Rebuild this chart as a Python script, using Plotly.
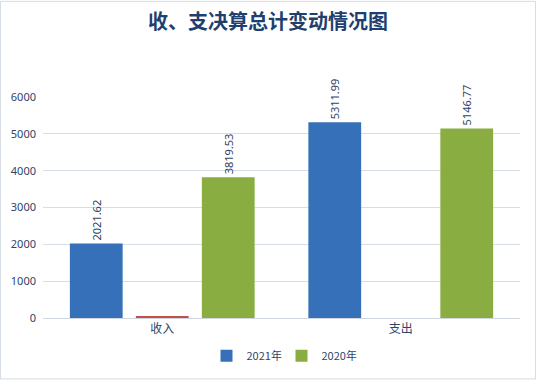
import plotly.graph_objects as go

categories = ["收入", "支出"]
y2021 = [2021.62, 5311.99]
y_mid = [30, 0]
y2020 = [3819.53, 5146.77]
labels2021 = ["2021.62", "5311.99"]
labels2020 = ["3819.53", "5146.77"]

W, H = 536, 382
ML, MR, MT, MB = 43, 16, 97, 62
PW, PH = W - ML - MR, H - MT - MB

lab_font = dict(family="Noto Sans, DejaVu Sans", size=11, color="#2E4468")

fig = go.Figure()
fig.add_trace(go.Bar(x=categories, y=y2021, name="2021年", marker=dict(color="#3670B8", line=dict(width=0)),
                     text=labels2021, textposition="outside", textangle=-90, textfont=lab_font, cliponaxis=False))
fig.add_trace(go.Bar(x=categories, y=y_mid, name="差额", showlegend=False,
                     marker=dict(color="#C0504D", line=dict(width=0))))
fig.add_trace(go.Bar(x=categories, y=y2020, name="2020年", marker=dict(color="#8AAD42", line=dict(width=0)),
                     text=labels2020, textposition="outside", textangle=-90, textfont=lab_font, cliponaxis=False))

fig.update_layout(
    width=W, height=H,
    margin=dict(l=ML, r=MR, t=MT, b=MB),
    paper_bgcolor="white", plot_bgcolor="white",
    barmode="group", bargap=0.17, bargroupgap=0.2,
    title=dict(text="<b>收、支决算总计变动情况图</b>", x=0.5, xanchor="center", y=1 - 22 / H, yanchor="middle",
               font=dict(family="Noto Sans CJK SC", size=20, color="#1F3F6E")),
    font=dict(family="Noto Sans CJK SC, Noto Sans", size=11, color="#2E4468"),
    legend=dict(orientation="h", x=0.5, xanchor="center", y=(PH + MT - 358 + 0) / PH - (MT - 97) / PH - 0.0,
                yanchor="middle",
                font=dict(size=11, color="#2E4468"), itemwidth=30, entrywidth=30, traceorder="normal"),
    xaxis=dict(showgrid=False, showline=True, linecolor="#D0D7E0", ticks="", automargin=False,
               tickfont=dict(size=12, color="#2E4468")),
    yaxis=dict(range=[0, 6000], dtick=1000, showgrid=True, gridcolor="#D6DDE6", zeroline=False,
               showline=False, ticks="", automargin=False,
               tickfont=dict(family="Noto Sans, DejaVu Sans", size=11, color="#2E4468"),
               ticklabelstandoff=6),
    shapes=[dict(type="rect", xref="paper", yref="paper",
                 x0=-(ML - 0.5) / PW, x1=1 + (MR - 0.5) / PW,
                 y0=-(MB - 0.5) / PH, y1=1 + (MT - 0.5) / PH,
                 line=dict(color="#D5DCE4", width=1), layer="below")],
)

fig.write_html("out.html", config={"displayModeBar": False},
               post_script="document.body.style.margin='0';document.body.style.padding='0';")
